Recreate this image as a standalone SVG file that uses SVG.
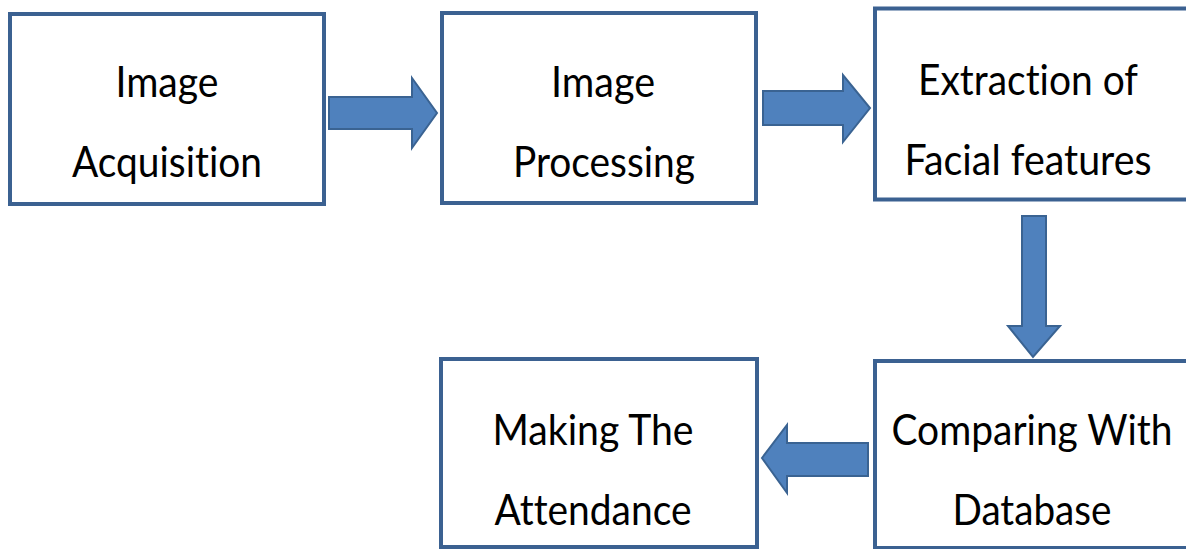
<svg xmlns="http://www.w3.org/2000/svg" width="1186" height="549" viewBox="0 0 1186 549">
  <style>
    .box { fill: #ffffff; stroke: #3B6191; stroke-width: 4; }
    .label { font-family: "Lato", "Liberation Sans", sans-serif; font-size: 42px; fill: #000000; text-anchor: middle; font-variant-ligatures: none; }
    .arrow { fill: #4F81BD; stroke: #3A6392; stroke-width: 2; stroke-linejoin: miter; }
  </style>
  <rect width="1186" height="549" fill="#ffffff"/>

  <!-- process steps -->
  <g id="image-acquisition">
    <rect class="box" x="10" y="14" width="314" height="190"/>
    <text class="label" x="167" y="97" textLength="103" lengthAdjust="spacingAndGlyphs">Image</text>
    <text class="label" x="167" y="177" textLength="190" lengthAdjust="spacingAndGlyphs">Acquisition</text>
  </g>
  <g id="image-processing">
    <rect class="box" x="442" y="13" width="314" height="190"/>
    <text class="label" x="603" y="97" textLength="104" lengthAdjust="spacingAndGlyphs">Image</text>
    <text class="label" x="604" y="177" textLength="182" lengthAdjust="spacingAndGlyphs">Processing</text>
  </g>
  <g id="feature-extraction">
    <rect class="box" x="875" y="8.5" width="320" height="191"/>
    <text class="label" x="1028" y="95" textLength="220" lengthAdjust="spacingAndGlyphs">Extraction of</text>
    <text class="label" x="1028" y="175" textLength="247" lengthAdjust="spacingAndGlyphs">Facial features</text>
  </g>
  <g id="database-compare">
    <rect class="box" x="875" y="361" width="320" height="187"/>
    <text class="label" x="1032" y="445" textLength="281" lengthAdjust="spacingAndGlyphs">Comparing With</text>
    <text class="label" x="1032" y="525" textLength="159" lengthAdjust="spacingAndGlyphs">Database</text>
  </g>
  <g id="attendance">
    <rect class="box" x="441" y="359" width="316" height="188"/>
    <text class="label" x="593" y="445" textLength="201" lengthAdjust="spacingAndGlyphs">Making The</text>
    <text class="label" x="593" y="525" textLength="197" lengthAdjust="spacingAndGlyphs">Attendance</text>
  </g>

  <!-- block arrows between steps -->
  <g id="connectors">
    <polygon class="arrow" points="329,97 412,97 412,78 437,113 412,148 412,129 329,129"/>
    <polygon class="arrow" points="763,91 843,91 843,75 870,108 843,142 843,125 763,125"/>
    <polygon class="arrow" points="1022,216 1046,216 1046,326 1060,326 1033,357 1008,326 1022,326"/>
    <polygon class="arrow" points="868,443 787,443 787,425 762,458 787,493 787,476 868,476"/>
  </g>
</svg>
